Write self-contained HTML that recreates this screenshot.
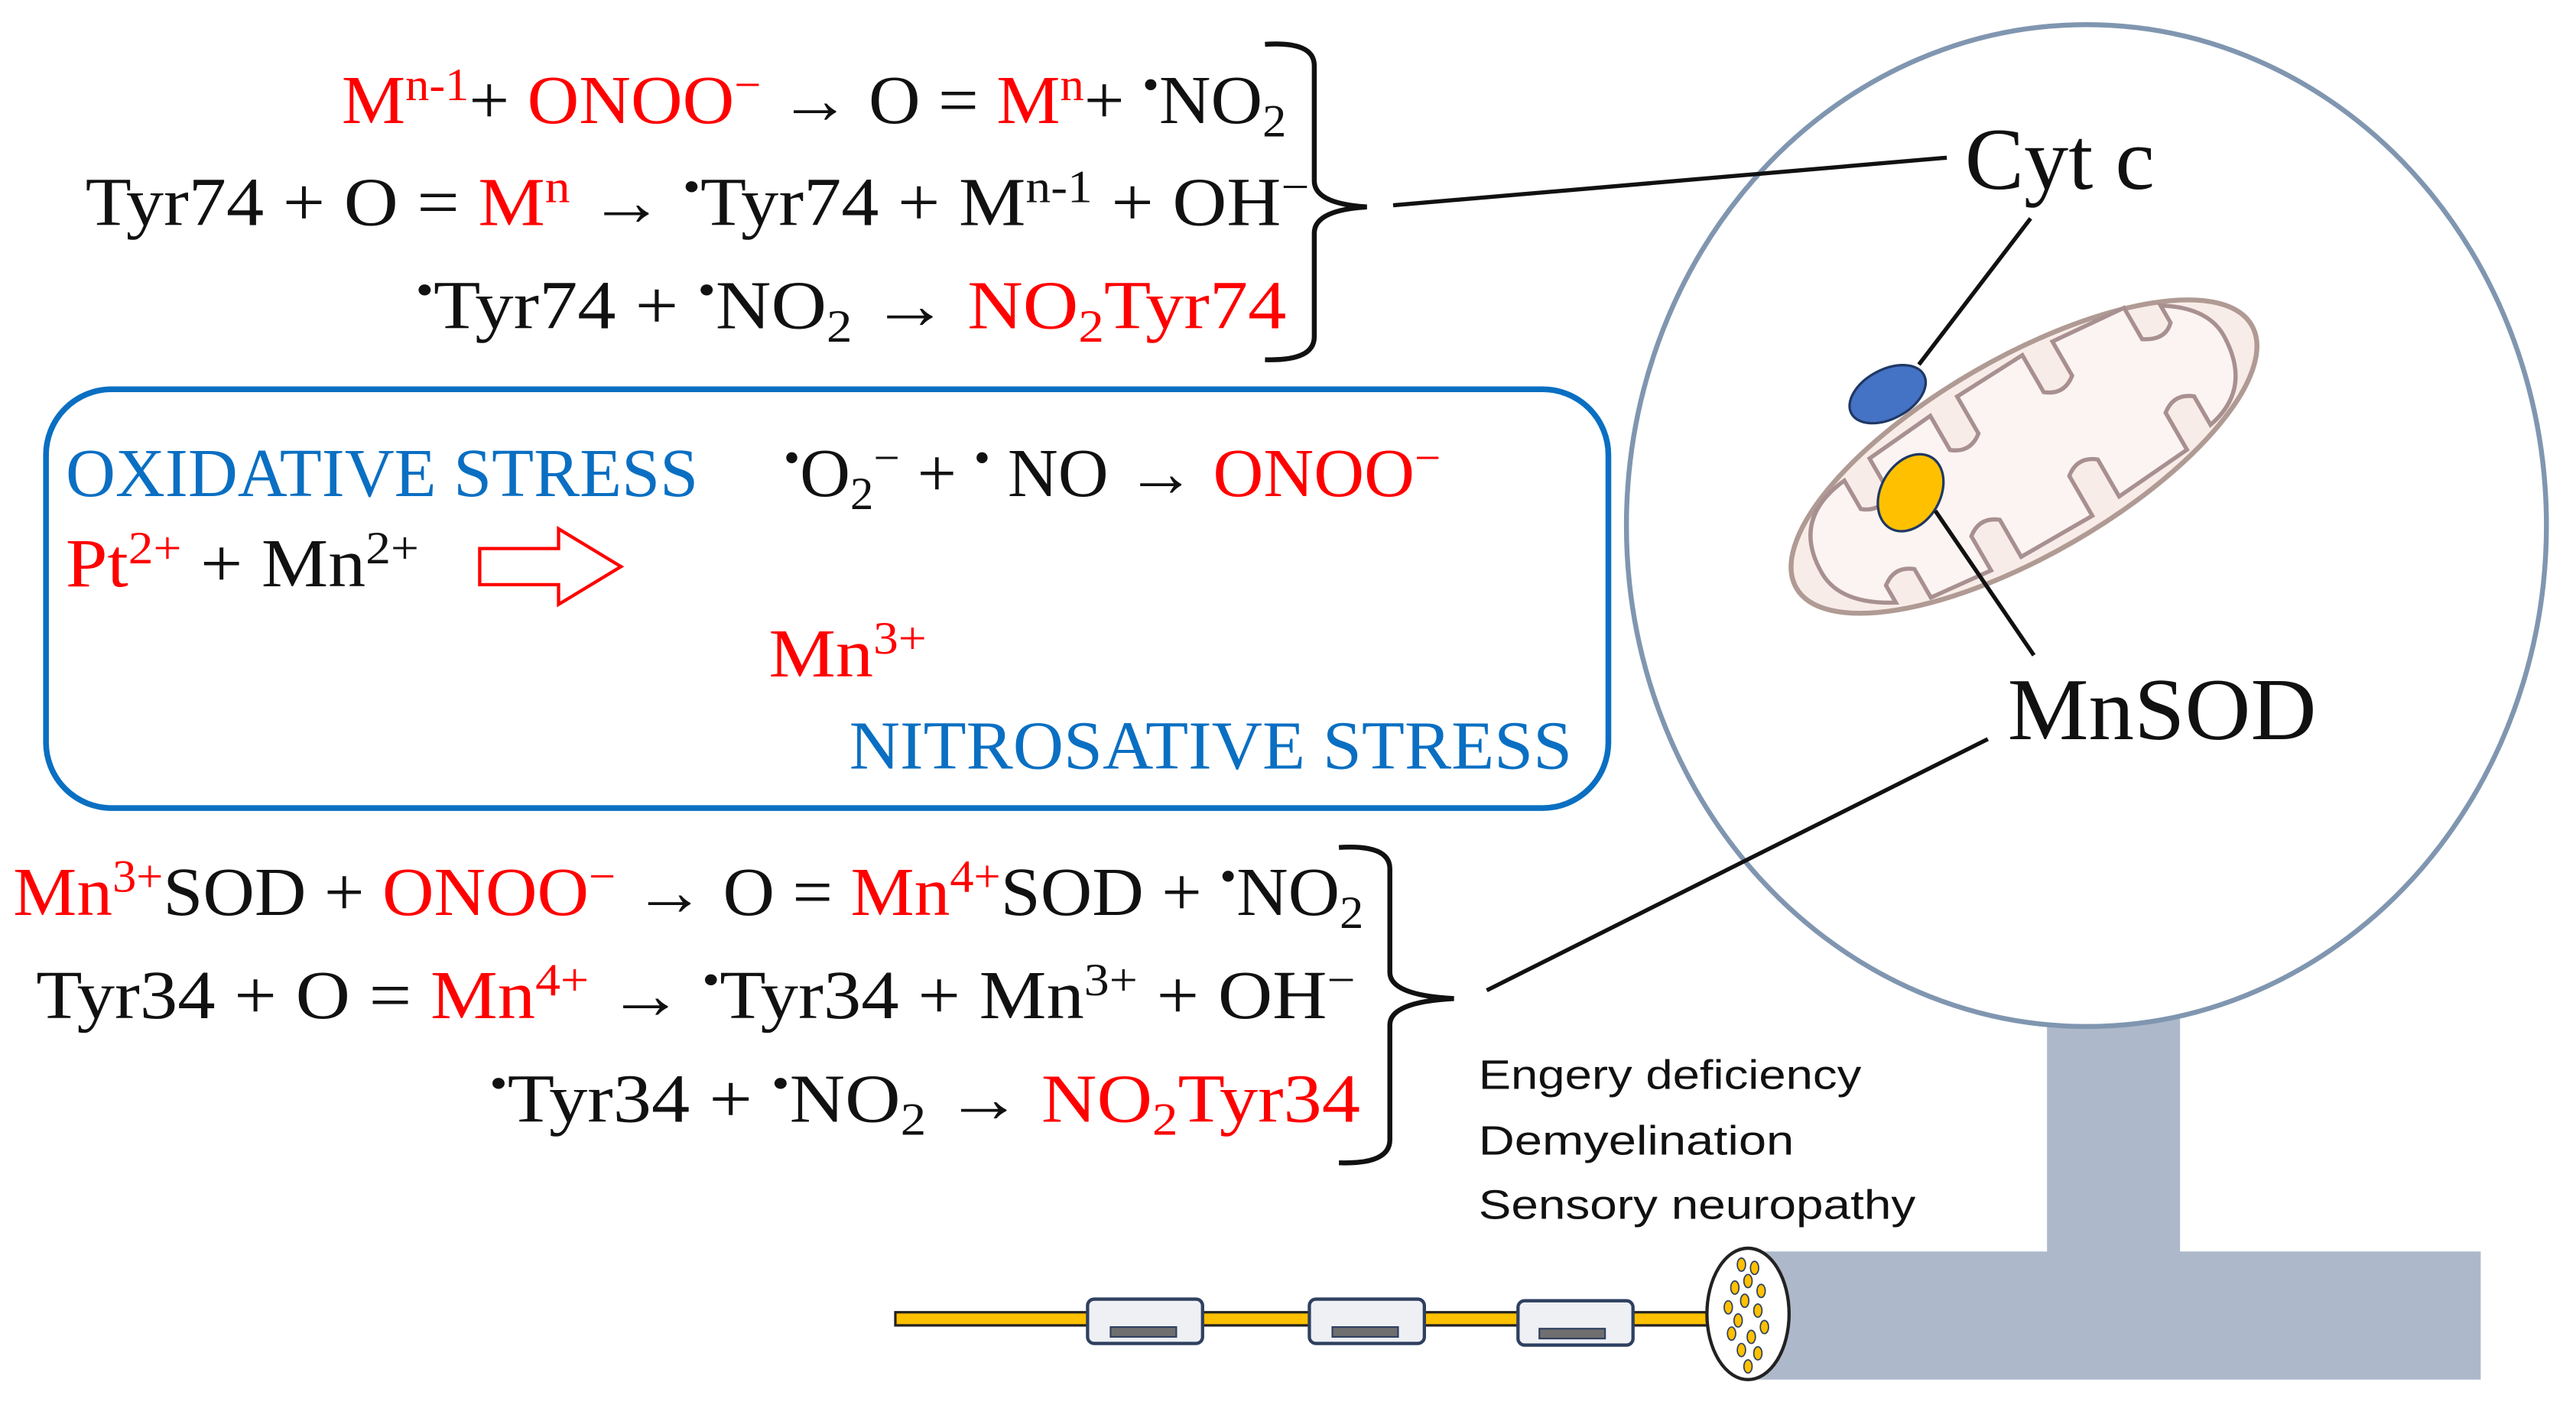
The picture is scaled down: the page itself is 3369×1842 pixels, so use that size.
<!DOCTYPE html>
<html><head><meta charset="utf-8"><style>html,body{margin:0;padding:0;background:#fff}svg{display:block}</style></head>
<body>
<svg width="3369" height="1842" viewBox="0 0 1568 857.3" xmlns="http://www.w3.org/2000/svg">
<g font-family="Liberation Serif, serif" font-size="42" fill="#111">
<text x="208" y="75" textLength="575" lengthAdjust="spacingAndGlyphs"><tspan fill="#f00">M</tspan><tspan dy="-14" font-size="28" fill="#f00">n-1</tspan><tspan dy="14">+ </tspan><tspan fill="#f00">ONOO</tspan><tspan dy="-14" font-size="28" fill="#f00">−</tspan><tspan dy="14"> → O = </tspan><tspan fill="#f00">M</tspan><tspan dy="-14" font-size="28" fill="#f00">n</tspan><tspan dy="14">+ </tspan><tspan dy="-14" font-size="28">•</tspan><tspan dy="14">NO</tspan><tspan dy="8" font-size="28">2</tspan></text>
<text x="52" y="137" textLength="745" lengthAdjust="spacingAndGlyphs">Tyr74 + O = <tspan fill="#f00">M</tspan><tspan dy="-14" font-size="28" fill="#f00">n</tspan><tspan dy="14"> → </tspan><tspan dy="-14" font-size="28">•</tspan><tspan dy="14">Tyr74 + M</tspan><tspan dy="-14" font-size="28">n-1</tspan><tspan dy="14"> + OH</tspan><tspan dy="-14" font-size="28">−</tspan></text>
<text x="253" y="200" textLength="530" lengthAdjust="spacingAndGlyphs"><tspan dy="-14" font-size="28">•</tspan><tspan dy="14">Tyr74 + </tspan><tspan dy="-14" font-size="28">•</tspan><tspan dy="14">NO</tspan><tspan dy="8" font-size="28">2</tspan><tspan dy="-8"> → </tspan><tspan fill="#f00">NO</tspan><tspan dy="8" font-size="28" fill="#f00">2</tspan><tspan dy="-8" fill="#f00">Tyr74</tspan></text>
<rect x="28" y="237" width="951" height="255" rx="40" fill="none" stroke="#0a6fc2" stroke-width="3.5"/>
<text x="40" y="302" fill="#0a6fc2" textLength="385" lengthAdjust="spacingAndGlyphs">OXIDATIVE STRESS</text>
<text x="477" y="302" textLength="400" lengthAdjust="spacingAndGlyphs"><tspan dy="-14" font-size="28">•</tspan><tspan dy="14">O</tspan><tspan dy="8" font-size="28">2</tspan><tspan dy="-22" font-size="28">−</tspan><tspan dy="14"> + </tspan><tspan dy="-14" font-size="28">•</tspan><tspan dy="14"> NO → </tspan><tspan fill="#f00">ONOO</tspan><tspan dy="-14" font-size="28" fill="#f00">−</tspan></text>
<text x="40" y="357" textLength="215" lengthAdjust="spacingAndGlyphs"><tspan fill="#f00">Pt</tspan><tspan dy="-14" font-size="28" fill="#f00">2+</tspan><tspan dy="14"> + Mn</tspan><tspan dy="-14" font-size="28">2+</tspan></text>
<path d="M292,334 H340 V322 L378,345 L340,368 V356 H292 Z" fill="#fff" stroke="#f00" stroke-width="2"/>
<text x="468" y="412" fill="#f00" textLength="96" lengthAdjust="spacingAndGlyphs">Mn<tspan dy="-14" font-size="28">3+</tspan></text>
<text x="517" y="468" fill="#0a6fc2" textLength="440" lengthAdjust="spacingAndGlyphs">NITROSATIVE STRESS</text>
<text x="8" y="557" textLength="822" lengthAdjust="spacingAndGlyphs"><tspan fill="#f00">Mn</tspan><tspan dy="-14" font-size="28" fill="#f00">3+</tspan><tspan dy="14">SOD + </tspan><tspan fill="#f00">ONOO</tspan><tspan dy="-14" font-size="28" fill="#f00">−</tspan><tspan dy="14"> → O = </tspan><tspan fill="#f00">Mn</tspan><tspan dy="-14" font-size="28" fill="#f00">4+</tspan><tspan dy="14">SOD + </tspan><tspan dy="-14" font-size="28">•</tspan><tspan dy="14">NO</tspan><tspan dy="8" font-size="28">2</tspan></text>
<text x="22" y="620" textLength="803" lengthAdjust="spacingAndGlyphs">Tyr34 + O = <tspan fill="#f00">Mn</tspan><tspan dy="-14" font-size="28" fill="#f00">4+</tspan><tspan dy="14"> → </tspan><tspan dy="-14" font-size="28">•</tspan><tspan dy="14">Tyr34 + Mn</tspan><tspan dy="-14" font-size="28">3+</tspan><tspan dy="14"> + OH</tspan><tspan dy="-14" font-size="28">−</tspan></text>
<text x="298" y="683" textLength="530" lengthAdjust="spacingAndGlyphs"><tspan dy="-14" font-size="28">•</tspan><tspan dy="14">Tyr34 + </tspan><tspan dy="-14" font-size="28">•</tspan><tspan dy="14">NO</tspan><tspan dy="8" font-size="28">2</tspan><tspan dy="-8"> → </tspan><tspan fill="#f00">NO</tspan><tspan dy="8" font-size="28" fill="#f00">2</tspan><tspan dy="-8" fill="#f00">Tyr34</tspan></text>
</g>
<rect x="1246" y="618" width="81" height="150" fill="#adb9ca"/>
<rect x="1065" y="762" width="445" height="78" fill="#adb9ca"/>
<ellipse cx="1270" cy="320" rx="280" ry="305" fill="#fff" stroke="#8096b0" stroke-width="3"/>
<g fill="none" stroke="#111" stroke-width="3">
<path d="M770,27 Q800,25 800,40 V110 Q800,124 832,126 Q800,128 800,142 V205 Q800,220 770,219"/>
<path d="M815,516 Q846,514 846,529 V592 Q846,606 885,608 Q846,610 846,624 V694 Q846,709 815,708"/>
<path d="M848,125 L1185,96" stroke-width="2.5"/>
<path d="M905,603 L1210,450" stroke-width="2.5"/>
</g>
<g transform="rotate(-30 1232 278)">
<ellipse cx="1232" cy="278" rx="160" ry="60" fill="#f8ece8" stroke="#b09a94" stroke-width="3"/>
<path d="M1090,278 Q1090,240 1130,236 L1130,256 Q1140,264 1150,256 L1150,232 L1195,228 L1195,252 Q1205,260 1215,252 L1215,226 L1262,224 L1262,250 Q1272,258 1282,250 L1282,226 L1330,230 L1330,252 Q1342,260 1350,252 L1350,240 Q1376,256 1374,278 Q1372,312 1340,318 L1340,298 Q1330,290 1320,298 L1320,324 L1270,328 L1270,302 Q1260,294 1250,302 L1250,330 L1200,330 L1200,304 Q1190,296 1180,304 L1180,328 L1140,324 L1140,304 Q1130,296 1120,304 L1120,316 Q1090,300 1090,278 Z" fill="#fbf4f2" stroke="#a89090" stroke-width="2.5"/>
</g>
<ellipse cx="1149" cy="240" rx="25" ry="15" transform="rotate(-28 1149 240)" fill="#4472c4" stroke="#1f3864" stroke-width="1.5"/>
<ellipse cx="1163" cy="300" rx="18" ry="25" transform="rotate(30 1163 300)" fill="#ffc000" stroke="#1f3864" stroke-width="1.5"/>
<g stroke="#111" stroke-width="2.5"><path d="M1236,133 L1168,222"/><path d="M1178,311 L1238,399"/></g>
<g font-family="Liberation Serif, serif" font-size="54" fill="#111">
<text x="1196" y="115">Cyt c</text>
<text x="1222" y="450" textLength="188" lengthAdjust="spacingAndGlyphs">MnSOD</text>
</g>
<g font-family="Liberation Sans, sans-serif" font-size="25" fill="#111">
<text x="900" y="663" textLength="233" lengthAdjust="spacingAndGlyphs">Engery deficiency</text>
<text x="900" y="703" textLength="192" lengthAdjust="spacingAndGlyphs">Demyelination</text>
<text x="900" y="742" textLength="266" lengthAdjust="spacingAndGlyphs">Sensory neuropathy</text>
</g>
<rect x="545" y="799" width="520" height="8" fill="#ffc000" stroke="#222" stroke-width="1.5"/>
<g fill="#eef0f4" stroke="#2f4060" stroke-width="2">
<rect x="662" y="791" width="70" height="27" rx="4"/>
<rect x="797" y="791" width="70" height="27" rx="4"/>
<rect x="924" y="792" width="70" height="27" rx="4"/>
</g>
<g fill="#6f6f6f" stroke="#2f4060" stroke-width="1">
<rect x="676" y="808" width="40" height="6"/>
<rect x="811" y="808" width="40" height="6"/>
<rect x="937" y="809" width="40" height="6"/>
</g>
<ellipse cx="1064" cy="800" rx="25" ry="40" fill="#fff" stroke="#222" stroke-width="2"/>
<g fill="#ffc000" stroke="#2f4060" stroke-width="0.8">
<ellipse cx="1060" cy="770" rx="2.5" ry="4"/><ellipse cx="1068" cy="772" rx="2.5" ry="4"/><ellipse cx="1064" cy="780" rx="2.5" ry="4"/>
<ellipse cx="1056" cy="784" rx="2.5" ry="4"/><ellipse cx="1072" cy="786" rx="2.5" ry="4"/><ellipse cx="1062" cy="792" rx="2.5" ry="4"/>
<ellipse cx="1052" cy="796" rx="2.5" ry="4"/><ellipse cx="1070" cy="798" rx="2.5" ry="4"/><ellipse cx="1058" cy="804" rx="2.5" ry="4"/>
<ellipse cx="1074" cy="808" rx="2.5" ry="4"/><ellipse cx="1054" cy="812" rx="2.5" ry="4"/><ellipse cx="1066" cy="814" rx="2.5" ry="4"/>
<ellipse cx="1060" cy="822" rx="2.5" ry="4"/><ellipse cx="1070" cy="824" rx="2.5" ry="4"/><ellipse cx="1064" cy="832" rx="2.5" ry="4"/>
</g>
</svg>
</body></html>
